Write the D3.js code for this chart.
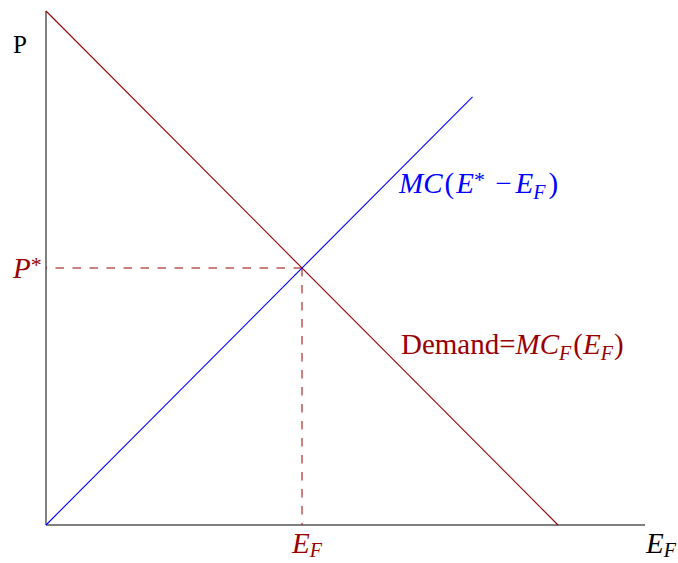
<!DOCTYPE html>
<html>
<head>
<meta charset="utf-8">
<script src="https://cdn.jsdelivr.net/npm/d3@7"></script>
<style>
  body { margin: 0; background: #fff; }
  svg { display: block; }
  text { font-family: "Liberation Serif", "Times New Roman", serif; }
</style>
</head>
<body>
<svg id="chart" width="678" height="563"></svg>
<script>
// values (in chart units)
const demandLine = [[0, 10], [10, 0]];
const mcLine = [[0, 0], [8.33, 8.33]];
const equilibrium = [5, 5];
const xAxisEnd = 11.7;
const yAxisEnd = 10;

const darkRed = '#990000';
const blue = '#0000ff';

const svg = d3.select('#chart');

const xScale = d3.scaleLinear().domain([0, 10]).range([46, 558]);
const yScale = d3.scaleLinear().domain([0, 10]).range([525, 11]);

const line = d3.line()
  .x(d => xScale(d[0]))
  .y(d => yScale(d[1]));

// axes
svg.append('path')
  .attr('d', line([[0, yAxisEnd], [0, 0], [xAxisEnd, 0]]))
  .attr('fill', 'none')
  .attr('stroke', '#000')
  .attr('stroke-width', 1);

// dashed guides, drawn from the equilibrium outward
svg.append('path')
  .attr('d', line([equilibrium, [0, equilibrium[1]]]))
  .attr('stroke', darkRed)
  .attr('stroke-width', 1)
  .attr('stroke-dasharray', '8.5,8.5');

svg.append('path')
  .attr('d', line([equilibrium, [equilibrium[0], 0]]))
  .attr('stroke', darkRed)
  .attr('stroke-width', 1)
  .attr('stroke-dasharray', '8.5,8.5');

// demand
svg.append('path')
  .attr('d', line(demandLine))
  .attr('stroke', darkRed)
  .attr('stroke-width', 1.1);

// MC
svg.append('path')
  .attr('d', line(mcLine))
  .attr('stroke', blue)
  .attr('stroke-width', 1.1);

const fs = 29;
const sub = 20;
const sup = 22;

// P label
svg.append('text')
  .attr('x', 20)
  .attr('y', 53)
  .attr('text-anchor', 'middle')
  .style('font-size', '25px')
  .text('P');

// P* label
const pStar = svg.append('text')
  .attr('x', 13)
  .attr('y', 278)
  .attr('fill', darkRed)
  .style('font-size', fs + 'px');
pStar.append('tspan').style('font-style', 'italic').text('P');
pStar.append('tspan').attr('dy', -6).style('font-size', sup + 'px').text('*');

// E_F labels
function eSubF(x, y, color) {
  const t = svg.append('text')
    .attr('x', x)
    .attr('y', y)
    .attr('fill', color)
    .style('font-size', fs + 'px')
    .style('font-style', 'italic');
  t.append('tspan').text('E');
  t.append('tspan').attr('dy', 4).style('font-size', sub + 'px').text('F');
  return t;
}
eSubF(292, 553, darkRed);
eSubF(646, 553, '#000');

// MC label
const mcText = svg.append('text')
  .attr('x', 399)
  .attr('y', 193)
  .attr('fill', blue)
  .style('font-size', fs + 'px');
mcText.append('tspan').style('font-style', 'italic').text('MC');
mcText.append('tspan').attr('dx', 2).text('(');
mcText.append('tspan').attr('dx', 2).style('font-style', 'italic').text('E');
mcText.append('tspan').attr('dy', -6).style('font-size', sup + 'px').text('*');
mcText.append('tspan').attr('dy', 6).attr('dx', 3).text(' \u2212');
mcText.append('tspan').attr('dx', 4).style('font-style', 'italic').text('E');
mcText.append('tspan').attr('dy', 6).style('font-size', sub + 'px').style('font-style', 'italic').text('F');
mcText.append('tspan').attr('dy', -6).attr('dx', 3).text(')');

// Demand label
const dText = svg.append('text')
  .attr('x', 401)
  .attr('y', 354)
  .attr('fill', darkRed)
  .style('font-size', fs + 'px');
dText.append('tspan').text('Demand=');
dText.append('tspan').style('font-style', 'italic').text('MC');
dText.append('tspan').attr('dy', 6).style('font-size', sub + 'px').style('font-style', 'italic').text('F');
dText.append('tspan').attr('dy', -6).attr('dx', 2).text('(');
dText.append('tspan').style('font-style', 'italic').text('E');
dText.append('tspan').attr('dy', 6).style('font-size', sub + 'px').style('font-style', 'italic').text('F');
dText.append('tspan').attr('dy', -6).attr('dx', 1).text(')');
</script>
</body>
</html>
